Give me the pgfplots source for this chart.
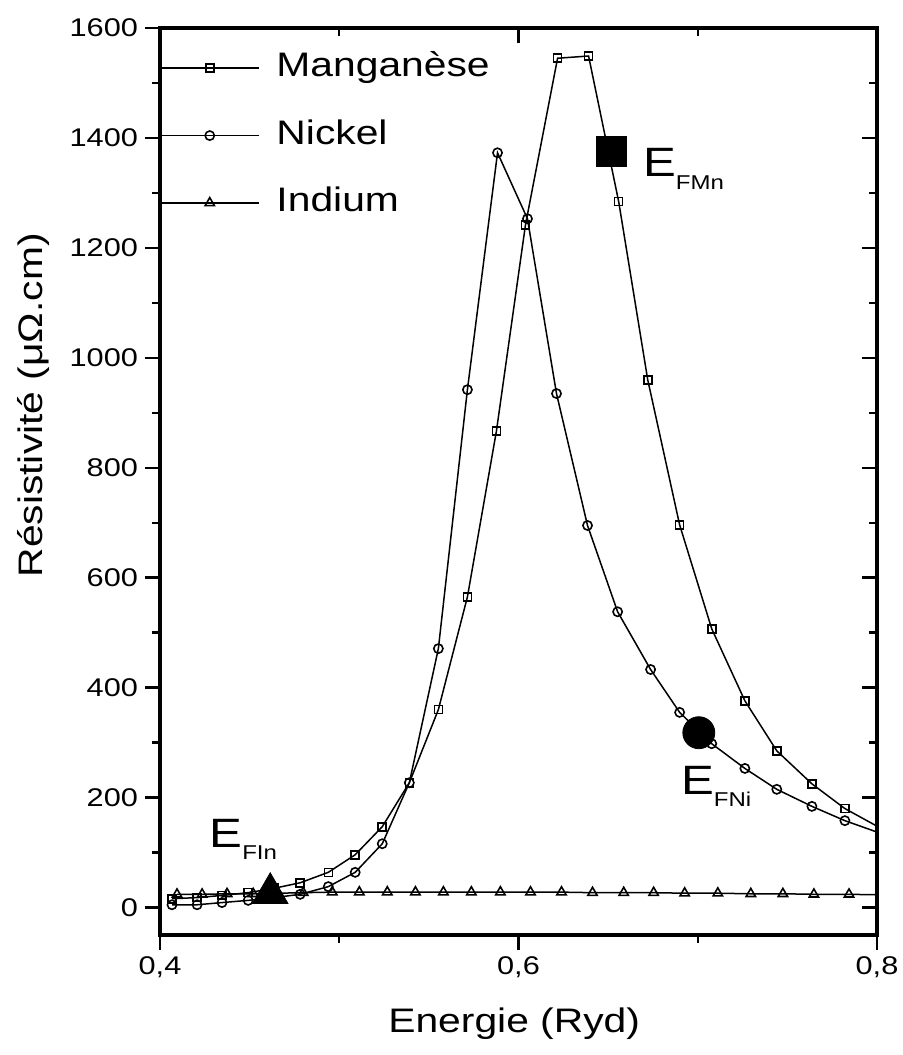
\documentclass[border=0pt]{standalone}
\usepackage{fontspec}
\setmainfont{Liberation Sans}[FakeStretch=1.2]
\usepackage{pgfplots}
\pgfplotsset{compat=1.18}

\begin{document}
\begin{tikzpicture}
\useasboundingbox (-80pt,-60pt) rectangle (371.5pt,467.5pt);
% inner ticks on top and right
\begin{axis}[
  scale only axis, width=358.5pt, height=453.5pt,
  xmin=0.4, xmax=0.8, ymin=-50, ymax=1600,
  xtick={0.4,0.6,0.8}, ytick={0,200,...,1600},
  minor x tick num=1, minor y tick num=1,
  xtick pos=right, ytick pos=right, tick align=inside,
  xticklabels={}, yticklabels={},
  axis line style={draw=none},
  major tick length=7.5pt, minor tick length=4pt,
  every tick/.style={black, line width=1.2pt},
]
\addplot[draw=none] coordinates {(0.5,0)};
\end{axis}
\begin{axis}[
  scale only axis, width=358.5pt, height=453.5pt,
  xmin=0.4, xmax=0.8, ymin=-50, ymax=1600,
  xtick={0.4,0.6,0.8}, ytick={0,200,...,1600},
  minor x tick num=1, minor y tick num=1,
  xtick pos=left, ytick pos=left, tick align=outside,
  axis line style={line width=2pt},
  major tick length=7.5pt, minor tick length=4pt,
  every tick/.style={black, line width=1.2pt},
  /pgf/number format/assume math mode=true,
  xticklabel style={font=\fontsize{12.8}{15}\selectfont, /pgf/number format/.cd, fixed, fixed zerofill, precision=1, use comma},
  yticklabel style={font=\fontsize{12.8}{15}\selectfont, /pgf/number format/.cd, fixed, precision=0, 1000 sep={}},
  xlabel={Energie (Ryd)}, ylabel={Résistivité (μΩ.cm)},
  label style={font=\fontsize{17}{20}\selectfont},
  xlabel style={at={(axis description cs:0.494,-0.108)}, anchor=base},
  ylabel style={at={(axis description cs:-0.1632,0.584)}, anchor=base},
  every axis plot/.append style={line width=0.75pt, black},
  legend style={draw=none, fill=none, at={(rel axis cs:0,1)}, anchor=north west, yshift=-12pt,
    inner sep=0pt, outer sep=0pt, row sep=17.5pt, column sep=8.5pt,
    font=\fontsize{17}{20}\selectfont,
    nodes={inner sep=0pt, text height=12.5pt, text depth=3.7pt}},
  legend cell align=left,
  legend image code/.code={\draw[mark repeat=2, mark phase=2, #1] plot coordinates {(0pt,0pt) (24.5pt,0pt) (49pt,0pt)};},
]
\addplot[mark=square, mark size=2pt, mark options={solid, fill=white, line width=0.8pt}] coordinates {
(0.4067,16) (0.4207,18) (0.4346,22) (0.4492,27) (0.4637,35) (0.4782,45) (0.4939,64) (0.5089,96)
(0.5240,147) (0.5391,227) (0.5553,360) (0.5715,565) (0.5877,867) (0.6039,1242) (0.6218,1545)
(0.6391,1549) (0.6559,1284) (0.6721,960) (0.6899,696) (0.7078,507) (0.7263,376) (0.7441,285)
(0.7637,225) (0.7821,180)};
\addlegendentry{Manganèse}
\addplot[mark=o, mark size=2.3pt, mark options={solid, fill=white, line width=0.8pt}] coordinates {
(0.4067,5) (0.4207,5) (0.4346,9) (0.4492,13) (0.4637,18) (0.4782,24) (0.4939,38) (0.5089,64)
(0.5240,116) (0.5391,227) (0.5553,471) (0.5715,942) (0.5883,1373) (0.6050,1253) (0.6212,935)
(0.6385,695) (0.6553,538) (0.6737,433) (0.6899,355) (0.7078,298) (0.7263,253) (0.7441,215)
(0.7637,184) (0.7821,158)};
\addlegendentry{Nickel}
\addplot[mark=triangle, mark size=2.7pt, mark options={solid, fill=white, line width=0.8pt}] coordinates {
(0.4095,24) (0.4235,24) (0.4374,25) (0.4520,25) (0.4659,26) (0.4799,27) (0.4961,28) (0.5112,28)
(0.5268,28) (0.5425,28) (0.5581,28) (0.5737,28) (0.5899,28) (0.6067,28) (0.6240,28) (0.6413,27)
(0.6587,27) (0.6754,27) (0.6927,26) (0.7112,26) (0.7296,25) (0.7475,25) (0.7648,24) (0.7844,24)};
\addlegendentry{Indium}
% tails beyond the axis edge (points outside 0.8, markers not shown)
\addplot[forget plot] coordinates {(0.7821,180) (0.8011,146)};
\addplot[forget plot] coordinates {(0.7821,158) (0.8011,136)};
\addplot[forget plot] coordinates {(0.7844,24) (0.8030,23)};
% Fermi levels
\addplot[forget plot, only marks, mark=triangle*, mark size=10.2pt, mark options={solid, fill=black, draw=black, line width=0.4pt}] coordinates {(0.4615,26)};
\addplot[forget plot, only marks, mark=square*, mark size=7.5pt, mark options={solid, fill=black, draw=black, line width=0.4pt}] coordinates {(0.6517,1375)};
\addplot[forget plot, only marks, mark=*, mark size=8pt, mark options={solid, fill=black, draw=black, line width=0.4pt}] coordinates {(0.7006,318)};
\node[anchor=base west, inner sep=0pt, font=\fontsize{20.5}{24}\selectfont] at (axis cs:0.6693,1329) {E\raisebox{-6.5pt}{\fontsize{10}{12}\selectfont FMn}};
\node[anchor=base west, inner sep=0pt, font=\fontsize{20.5}{24}\selectfont] at (axis cs:0.6905,205) {E\raisebox{-6pt}{\fontsize{10}{12}\selectfont FNi}};
\node[anchor=base west, inner sep=0pt, font=\fontsize{20.5}{24}\selectfont] at (axis cs:0.4274,109) {E\raisebox{-6pt}{\fontsize{10}{12}\selectfont FIn}};
\end{axis}
\end{tikzpicture}
\end{document}
